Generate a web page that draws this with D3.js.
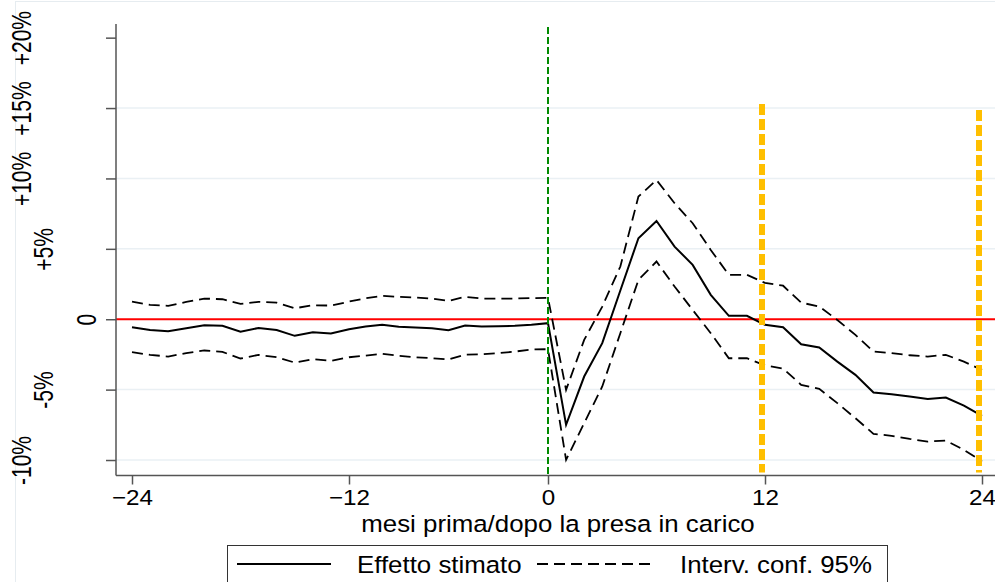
<!DOCTYPE html>
<html>
<head>
<meta charset="utf-8">
<script src="https://cdn.jsdelivr.net/npm/d3@7"></script>
<style>
  body { margin: 0; background: #fff; }
  svg { display: block; font-family: "Liberation Sans", Arial, sans-serif; }
</style>
</head>
<body>
<div id="chart"></div>
<script>
// mesi rispetto alla presa in carico
const months = d3.range(-24, 25);
// effetto stimato (%)
const estimate = [-0.57, -0.76, -0.85, -0.64, -0.43, -0.47, -0.88, -0.62, -0.76, -1.18, -0.92, -1.02,
  -0.71, -0.52, -0.40, -0.54, -0.59, -0.64, -0.78, -0.45, -0.52, -0.50, -0.47, -0.40, -0.28,
  -7.50, -4.07, -1.70, 2.04, 5.75, 6.98, 5.16, 3.86, 1.73, 0.24, 0.24, -0.40,
  -0.57, -1.78, -2.01, -3.01, -3.95, -5.21, -5.33, -5.49, -5.66, -5.56, -6.13, -6.86];
// intervallo di confidenza 95%
const upper = [1.25, 1.02, 0.95, 1.23, 1.47, 1.42, 1.09, 1.23, 1.18, 0.78, 0.99, 0.97,
  1.25, 1.49, 1.66, 1.59, 1.54, 1.47, 1.30, 1.59, 1.47, 1.47, 1.47, 1.50, 1.52,
  -5.02, -1.47, 0.90, 3.74, 8.71, 9.89, 8.24, 6.82, 4.92, 3.15, 3.15, 2.58,
  2.38, 1.18, 0.90, -0.05, -1.11, -2.30, -2.41, -2.56, -2.65, -2.53, -3.01, -3.60];
const lower = [-2.34, -2.53, -2.65, -2.41, -2.22, -2.32, -2.79, -2.53, -2.70, -3.08, -2.84, -2.96,
  -2.70, -2.58, -2.46, -2.60, -2.70, -2.77, -2.86, -2.51, -2.49, -2.41, -2.30, -2.15, -2.13,
  -9.99, -7.38, -4.78, -0.99, 2.79, 4.10, 2.32, 0.66, -0.99, -2.77, -2.77, -3.28,
  -3.50, -4.66, -4.95, -5.96, -7.03, -8.14, -8.28, -8.50, -8.69, -8.62, -9.28, -10.1];

const xTicks = [-24, -12, 0, 12, 24];
const yTicks = [-10, -5, 0, 5, 10, 15, 20];
const yTickLabels = ["-10%", "-5%", "0", "+5%", "+10%", "+15%", "+20%"];
const markers = [12, 24];   // linee arancioni
const legendLabels = ["Effetto stimato", "Interv. conf. 95%"];
const xTitle = "mesi prima/dopo la presa in carico";

const width = 995, height = 582;
const plotLeft = 116, plotBottom = 475.5, plotTop = 24;
const fontSize = 23.5, stretch = 1.1;   // testo orizzontale leggermente allargato

const svg = d3.select("#chart").append("svg")
  .attr("width", width).attr("height", height);

// cornice esterna chiara
svg.append("rect")
  .attr("x", 15.5).attr("y", 1.5).attr("width", 1000).attr("height", 600)
  .attr("fill", "none").attr("stroke", "#e6ecf0").attr("stroke-width", 1);

const x = d3.scaleLinear()
  .domain([-24, -12, 0, 12, 24])
  .range([132, 349, 548, 765, 982]);

const y = d3.scaleLinear()
  .domain([-11.1, 20.97])
  .range([plotBottom, plotTop]);

// griglia
svg.append("g").selectAll("line")
  .data(yTicks.filter(d => d !== 0 && d !== 20))
  .enter().append("line")
  .attr("x1", plotLeft).attr("x2", width)
  .attr("y1", d => y(d)).attr("y2", d => y(d))
  .attr("stroke", "#eaf0f4").attr("stroke-width", 1.5);

// linea dello zero
svg.append("line")
  .attr("x1", plotLeft).attr("x2", width)
  .attr("y1", y(0)).attr("y2", y(0))
  .attr("stroke", "#ff0000").attr("stroke-width", 2);

const line = series => d3.line()
  .x((d, i) => x(months[i]))
  .y(d => y(d))(series);

svg.append("path").attr("d", line(upper))
  .attr("fill", "none").attr("stroke", "#000").attr("stroke-width", 1.8)
  .attr("stroke-dasharray", "11,6");
svg.append("path").attr("d", line(lower))
  .attr("fill", "none").attr("stroke", "#000").attr("stroke-width", 1.8)
  .attr("stroke-dasharray", "11,6");
svg.append("path").attr("d", line(estimate))
  .attr("fill", "none").attr("stroke", "#000").attr("stroke-width", 2);

// linea verticale a 0
svg.append("line")
  .attr("x1", x(0)).attr("x2", x(0))
  .attr("y1", 27).attr("y2", plotBottom)
  .attr("stroke", "#008a00").attr("stroke-width", 2)
  .attr("stroke-dasharray", "7,3");

// linee arancioni con ombra
const defs = svg.append("defs");
defs.append("filter").attr("id", "blur")
  .attr("x", "-2").attr("width", "5")
  .append("feGaussianBlur").attr("stdDeviation", 1.6);

const markTop = [104, 110];
markers.forEach((m, i) => {
  const mx = x(m) - 3;
  svg.append("line")
    .attr("x1", mx).attr("x2", mx)
    .attr("y1", markTop[i]).attr("y2", plotBottom - 3)
    .attr("stroke", "#9a9a9a").attr("stroke-width", 8.5)
    .attr("stroke-dasharray", "11,4")
    .attr("opacity", 0.7)
    .attr("filter", "url(#blur)");
  svg.append("line")
    .attr("x1", mx).attr("x2", mx)
    .attr("y1", markTop[i]).attr("y2", plotBottom - 3)
    .attr("stroke", "#ffbf00").attr("stroke-width", 6)
    .attr("stroke-dasharray", "11,4");
});

// assi
const axisColor = "#555";
svg.append("line")
  .attr("x1", plotLeft).attr("x2", plotLeft)
  .attr("y1", plotTop).attr("y2", plotBottom)
  .attr("stroke", axisColor).attr("stroke-width", 1.5);
svg.append("line")
  .attr("x1", plotLeft).attr("x2", width)
  .attr("y1", plotBottom).attr("y2", plotBottom)
  .attr("stroke", axisColor).attr("stroke-width", 1.5);

const xAxis = svg.append("g")
  .attr("transform", `translate(0,${plotBottom})`)
  .call(d3.axisBottom(x).tickValues(xTicks).tickSize(9).tickPadding(5)
    .tickFormat(d3.format("d")));
xAxis.select(".domain").remove();
xAxis.selectAll(".tick line").attr("stroke", axisColor).attr("stroke-width", 1.5);
xAxis.selectAll(".tick text")
  .attr("font-size", 22).attr("fill", "#000")
  .attr("font-family", "Liberation Sans, Arial, sans-serif")
  .attr("transform", `scale(${stretch},1)`);

const yAxis = svg.append("g")
  .attr("transform", `translate(${plotLeft},0)`)
  .call(d3.axisLeft(y).tickValues(yTicks).tickSize(10)
    .tickFormat((d, i) => yTickLabels[i]));
yAxis.select(".domain").remove();
yAxis.selectAll(".tick line").attr("stroke", axisColor).attr("stroke-width", 1.5);
yAxis.selectAll(".tick text").each(function (d, i) {
  const n = yTickLabels[i].length;
  const cx = 108 - 21.6 * n - plotLeft;
  d3.select(this)
    .attr("font-size", 21).attr("fill", "#000")
    .attr("font-family", "Liberation Sans, Arial, sans-serif")
    .attr("text-anchor", "middle")
    .attr("dy", null)
    .attr("dominant-baseline", "central")
    .attr("x", 0)
    .attr("transform", `translate(${cx},0) scale(1.3,1) rotate(-90)`);
});

// titolo asse x
svg.append("text")
  .attr("transform", `translate(558,531.5) scale(${stretch},1)`)
  .attr("text-anchor", "middle")
  .attr("font-size", fontSize)
  .text(xTitle);

// legenda
const legend = svg.append("g");
legend.append("rect")
  .attr("x", 227.5).attr("y", 545.5).attr("width", 660).attr("height", 60)
  .attr("fill", "#fff").attr("stroke", "#333").attr("stroke-width", 1);
legend.append("line")
  .attr("x1", 237).attr("x2", 331).attr("y1", 564).attr("y2", 564)
  .attr("stroke", "#000").attr("stroke-width", 2);
legend.append("text")
  .attr("transform", `translate(357,573) scale(${stretch},1)`)
  .attr("font-size", fontSize)
  .text(legendLabels[0]);
legend.append("line")
  .attr("x1", 537).attr("x2", 650).attr("y1", 564).attr("y2", 564)
  .attr("stroke", "#000").attr("stroke-width", 1.8)
  .attr("stroke-dasharray", "11,6");
legend.append("text")
  .attr("transform", `translate(680,573) scale(${stretch},1)`)
  .attr("font-size", fontSize)
  .text(legendLabels[1]);
</script>
</body>
</html>
